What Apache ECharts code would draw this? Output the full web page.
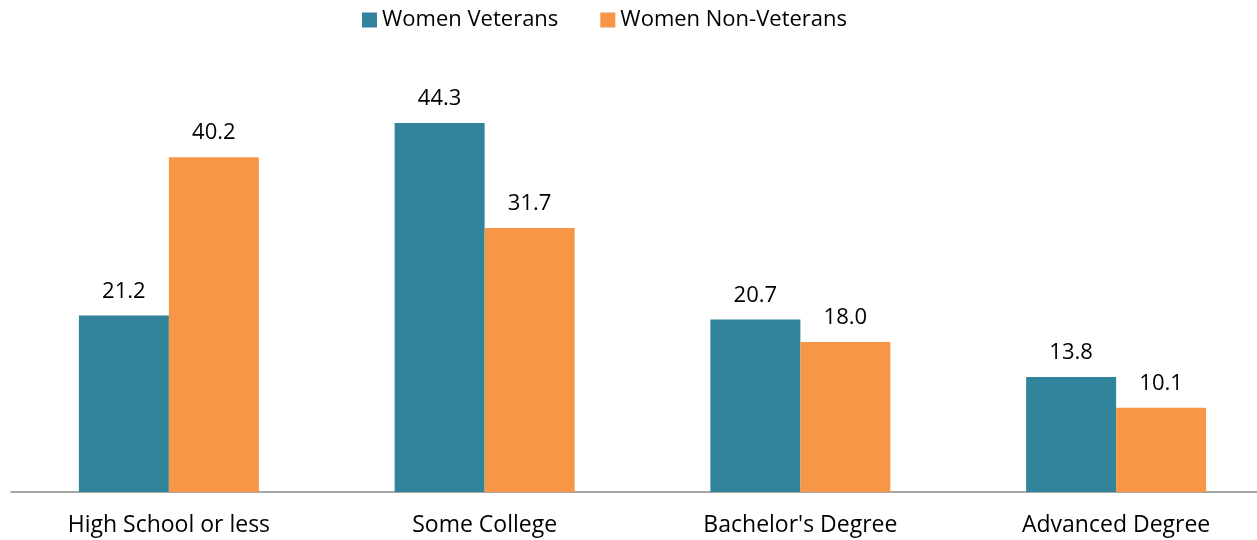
<!DOCTYPE html>
<html>
<head>
<meta charset="utf-8">
<script src="https://cdn.jsdelivr.net/npm/echarts@6/dist/echarts.min.js"></script>
<style>
  html, body { margin: 0; padding: 0; background: #fff; overflow: hidden; }
  /* a área do gráfico passa um pouco da borda direita, como no original */
  #grafico { width: 1280px; height: 540px; }
</style>
</head>
<body>
<div id="grafico"></div>
<script>
// dados do gráfico
const categorias = ['High School or less', 'Some College', "Bachelor's Degree", 'Advanced Degree'];
const veteranas = [21.2, 44.3, 20.7, 13.8];
const naoVeteranas = [40.2, 31.7, 18.0, 10.1];

const fonte = '"Open Sans", sans-serif';

const grafico = echarts.init(document.getElementById('grafico'));

const rotulo = {
  show: true,
  position: 'top',
  distance: 13,
  color: '#000',
  fontSize: 22,
  fontFamily: fonte,
  formatter: p => p.value.toFixed(1)
};

const opcoes = {
  animation: false,
  legend: {
    top: 4,
    left: 357,
    itemWidth: 15,
    itemHeight: 15,
    itemGap: 42,
    icon: 'rect',
    textStyle: { color: '#000', fontSize: 22, fontFamily: fonte }
  },
  grid: {
    left: 11,
    width: 1263,
    top: 75.5,
    bottom: 48
  },
  xAxis: {
    type: 'category',
    data: categorias,
    axisLine: { lineStyle: { color: '#898989', width: 1.5 } },
    axisTick: { show: false },
    axisLabel: { color: '#000', fontSize: 23, fontFamily: fonte, margin: 22 }
  },
  yAxis: {
    type: 'value',
    min: 0,
    max: 50,
    show: false
  },
  series: [
    {
      name: 'Women Veterans',
      type: 'bar',
      data: veteranas,
      barGap: 0,
      barCategoryGap: '43%',
      itemStyle: { color: '#31849B' },
      label: rotulo
    },
    {
      name: 'Women Non-Veterans',
      type: 'bar',
      data: naoVeteranas,
      itemStyle: { color: '#F79646' },
      label: rotulo
    }
  ]
};

grafico.setOption(opcoes);
</script>
</body>
</html>
